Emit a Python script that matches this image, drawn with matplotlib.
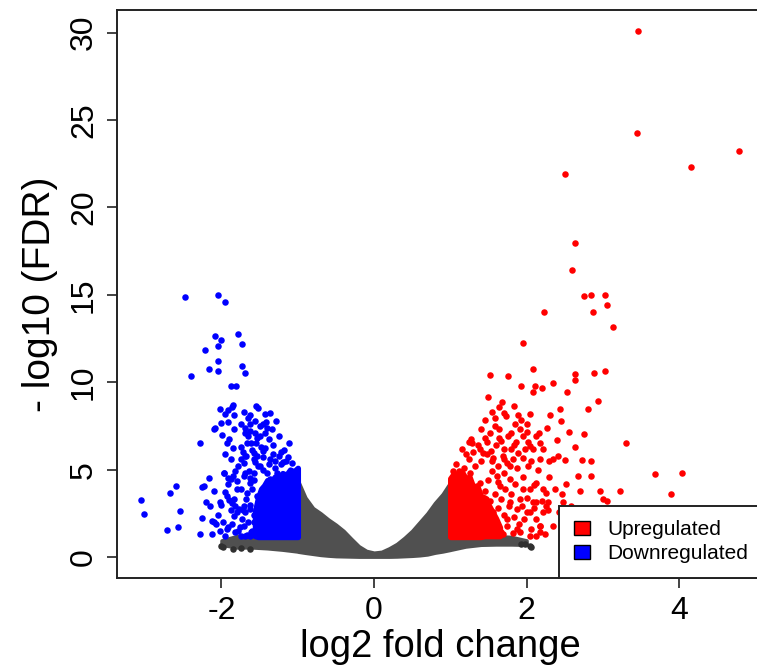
import matplotlib
matplotlib.use("Agg")
import matplotlib.pyplot as plt
from matplotlib.patches import Patch

plt.rcParams['font.family'] = ['Liberation Sans', 'DejaVu Sans']

# ---------------- data ----------------
# dense non-significant cloud (envelope of the grey points)
gray_x  = [-2.0, -1.8, -1.6, -1.4, -1.2, -1.01, -0.99, -0.9, -0.8, -0.7, -0.6, -0.5, -0.4, -0.3, -0.2, -0.1,
           0.0, 0.1, 0.2, 0.3, 0.4, 0.5, 0.6, 0.7, 0.8, 0.9, 0.99, 1.01, 1.2, 1.4, 1.6, 1.8, 2.0]
gray_hi = [0.95, 1.2, 1.2, 1.2, 1.2, 1.2, 4.3, 3.4, 2.8, 2.5, 2.15, 1.85, 1.5, 1.05, 0.62, 0.35,
           0.25, 0.3, 0.5, 0.75, 1.1, 1.5, 2.0, 2.5, 3.1, 3.6, 4.2, 1.2, 1.2, 1.2, 1.2, 1.15, 0.95]
gray_lo = [0.7, 0.55, 0.55, 0.5, 0.42, 0.32, 0.3, 0.24, 0.18, 0.12, 0.08, 0.05, 0.04, 0.03, 0.02, 0.02,
           0.02, 0.02, 0.02, 0.03, 0.05, 0.07, 0.1, 0.15, 0.25, 0.32, 0.4, 0.42, 0.6, 0.7, 0.72, 0.72, 0.7]
gray_pts_x = [-1.98, -1.85, -2.01, -1.75, -1.62, 1.98, 2.04, 1.93, 2.06]
gray_pts_y = [0.57, 0.46, 0.63, 0.5, 0.45, 0.74, 0.65, 0.74, 0.6]

# dense core of down-regulated genes
blue_core_x  = [-1.56, -1.52, -1.48, -1.44, -1.4, -1.35, -1.3, -1.25, -1.2, -1.15, -1.1, -1.05, -1.0]
blue_core_hi = [2.6, 3.4, 3.9, 4.1, 4.4, 4.3, 4.6, 4.5, 4.8, 4.7, 5.0, 4.9, 5.1]
blue_core_lo = [1.2, 1.15, 1.15, 1.15, 1.15, 1.15, 1.15, 1.15, 1.15, 1.15, 1.15, 1.15, 1.15]

down_x = [-2.48, -2.04, -1.96, -2.08, -1.79, -2.01, -1.73, -2.05, -2.22, -2.05, -2.16, -2.05, -1.73, -1.69,
          -2.40, -1.88, -1.81, -1.85, -1.86, -2.02, -1.91, -1.84, -1.55, -1.52, -1.43, -1.37, -1.63, -1.65,
          -2.01, -2.09, -2.10, -1.91, -1.74, -1.69, -1.62, -1.49, -1.41, -1.40, -1.34, -1.99, -1.69, -1.65,
          -1.56, -1.53, -1.43, -1.38, -1.93, -1.90, -2.28, -1.67, -1.61, -1.85, -1.72, -1.69, -1.58, -1.54,
          -1.43, -1.45, -1.22, -1.13, -1.37, -1.30, -1.20, -1.74, -1.70, -1.56, -1.50, -1.03, -2.17, -1.97,
          -1.91, -1.85, -1.80, -1.69, -1.63, -1.58, -2.59, -2.26, -2.68, -3.06, -2.20, -1.90, -2.00, -2.54,
          -3.01, -1.82, -1.77, -1.69, -1.63, -2.26, -2.12, -2.07, -2.57, -2.72, -2.28, -2.13, -1.91, -1.95,
          -1.82, -1.76, -1.69, -1.61, -2.23, -2.10, -2.02, -1.93, -1.84, -1.71, -1.80, -1.62, -1.62, -1.75,
          -1.49, -1.40, -1.54, -1.67, -1.88, -1.97, -1.71, -1.84, -1.58, -1.36, -1.27, -1.06, -1.01,
          -1.60, -1.65, -1.70, -1.58, -1.62, -1.68, -1.73, -1.78, -1.80, -1.86, -1.75, -1.60, -1.57, -1.64,
          -1.52, -1.45, -1.38, -1.30, -1.22, -1.15, -1.08, -1.25, -1.33, -1.45, -1.48, -1.55, -1.60, -1.75,
          -1.78, -1.88, -1.95, -1.82, -1.92, -1.96, -2.05, -1.98, -2.02, -1.88, -1.93, -2.10, -2.15, -1.50,
          -1.32, -1.25, -1.18, -1.12, -1.62, -1.83, -1.96, -1.70, -1.56, -1.46, -1.28, -1.40, -1.56, -1.67,
          -1.72, -1.86, -1.58, -1.68]
down_y = [14.87, 14.99, 14.59, 12.66, 12.78, 12.42, 12.17, 12.05, 11.83, 11.22, 10.76, 10.65, 10.95, 10.54,
          10.33, 9.79, 9.77, 8.71, 8.56, 8.46, 8.39, 8.10, 8.63, 8.50, 8.21, 8.25, 8.10, 7.97,
          7.68, 7.36, 7.30, 7.72, 7.64, 7.40, 7.59, 7.49, 7.72, 7.40, 7.30, 7.00, 7.07, 6.92,
          7.07, 6.83, 7.11, 6.77, 6.54, 6.73, 6.52, 6.54, 6.54, 6.26, 6.03, 5.78, 5.97, 5.78,
          6.26, 6.06, 5.99, 5.74, 5.63, 5.49, 5.44, 5.59, 5.40, 5.44, 5.21, 4.83, 4.55, 4.81,
          4.55, 4.64, 4.35, 4.83, 4.55, 4.83, 4.05, 4.01, 3.65, 3.25, 3.12, 3.25, 2.98, 2.61,
          2.45, 2.93, 2.74, 2.55, 2.74, 2.26, 2.07, 1.88, 1.69, 1.52, 1.33, 1.29, 1.69, 1.22,
          1.41, 1.69, 1.22, 1.41, 4.07, 1.98, 3.12, 1.60, 2.36, 2.93, 3.88, 4.26, 1.22, 1.22,
          2.55, 1.60, 3.50, 3.69, 4.45, 4.83, 4.64, 3.31, 1.98, 4.45, 4.83, 4.83, 3.88,
          1.5, 2.0, 1.8, 2.4, 3.0, 3.3, 2.2, 1.5, 2.6, 1.9, 3.9, 3.9, 4.4, 4.9,
          5.2, 5.0, 5.3, 5.1, 5.3, 5.5, 5.4, 5.8, 5.9, 5.7, 6.3, 6.5, 6.1, 6.3,
          5.2, 5.6, 5.9, 4.9, 4.2, 3.7, 2.4, 2.0, 1.5, 2.7, 3.5, 3.8, 2.9, 6.9,
          6.4, 6.9, 6.1, 6.5, 7.2, 7.3, 8.2, 8.3, 7.8, 7.6, 7.8, 4.8, 1.3, 1.25,
          2.7, 3.1, 5.6, 5.8]

# dense core of up-regulated genes
red_core_x  = [1.0, 1.05, 1.1, 1.15, 1.2, 1.25, 1.3, 1.35, 1.4, 1.45, 1.5, 1.55, 1.6, 1.65]
red_core_hi = [4.5, 4.8, 4.7, 4.9, 4.5, 4.6, 4.0, 4.1, 3.5, 3.4, 3.0, 2.6, 2.2, 1.7]
red_core_lo = [1.15, 1.15, 1.15, 1.15, 1.15, 1.15, 1.15, 1.15, 1.15, 1.2, 1.2, 1.2, 1.2, 1.2]

up_x = [3.455, 3.45, 4.79, 4.15, 2.51, 2.63, 2.60, 2.75, 2.85, 3.03, 2.87, 3.05, 2.23, 3.13, 1.95, 2.09,
        1.52, 1.76, 2.64, 2.64, 2.88, 3.03, 1.93, 2.11, 2.08, 2.20, 2.35, 2.53, 1.50, 1.68, 1.83, 2.94,
        2.81, 2.44, 2.31, 1.46, 1.58, 1.70, 1.73, 1.89, 1.93, 2.00, 1.64, 1.80, 2.00, 1.95, 2.16, 2.55,
        2.75, 1.27, 1.24, 1.48, 1.64, 1.67, 1.83, 1.80, 2.02, 2.04, 2.17, 2.63, 3.30, 1.39, 1.43, 1.54,
        1.56, 1.69, 1.74, 1.82, 1.89, 1.95, 2.09, 2.06, 2.17, 2.30, 2.35, 2.41, 2.51, 2.73, 2.84, 2.67,
        2.84, 2.70, 2.96, 3.22, 2.46, 2.48, 2.26, 2.28, 2.22, 2.13, 2.04, 2.13, 2.04, 2.17, 2.24, 2.13,
        3.00, 3.05, 3.69, 3.90, 1.65, 1.78, 2.00, 2.13, 2.22, 1.87, 2.04, 1.69, 1.52, 2.17, 2.26, 1.95,
        1.78, 1.61, 1.47, 1.56, 1.87, 1.39, 1.26, 1.74, 1.91, 2.09, 1.43, 1.61, 4.04,
        1.55, 1.62, 1.70, 1.58, 1.66, 1.72, 1.80, 1.85, 1.62, 1.70, 1.77, 1.83, 1.60, 1.66, 1.75, 1.82,
        1.90, 1.97, 1.94, 2.00, 2.06, 2.10, 1.55, 1.63, 1.48, 1.40, 1.33, 1.25, 1.18, 1.12, 1.30, 1.36,
        1.45, 1.52, 1.60, 1.70, 1.76, 1.86, 1.92, 1.58, 1.40, 1.55, 1.64, 1.85, 2.05, 2.12, 2.22, 2.27,
        2.40, 2.45, 2.30, 2.37, 2.42, 2.35, 2.52, 2.58, 1.50, 1.45, 1.52, 1.48, 1.55, 1.60, 1.20, 1.28,
        1.08, 1.03, 1.15, 1.88, 1.95, 2.02, 2.15, 2.10, 2.20, 2.28, 1.92, 2.18, 1.70, 1.78, 1.98]
up_y = [30.12, 24.26, 23.26, 22.29, 21.89, 17.97, 16.45, 14.91, 14.99, 14.99, 14.0, 14.41, 14.0, 13.16, 12.23, 10.76,
        10.42, 10.33, 10.48, 10.15, 10.51, 10.65, 9.79, 9.79, 9.43, 9.70, 9.93, 9.47, 9.18, 8.86, 8.63, 8.92,
        8.48, 8.48, 8.12, 7.85, 7.97, 8.25, 8.06, 8.12, 7.83, 7.64, 7.34, 7.07, 7.15, 6.92, 7.11, 7.15,
        7.03, 6.73, 6.58, 6.58, 6.83, 6.64, 6.39, 6.20, 6.60, 6.35, 6.54, 6.29, 6.52, 6.16, 5.93, 6.06,
        5.69, 5.78, 5.40, 5.59, 5.93, 5.69, 6.16, 5.49, 5.59, 5.49, 5.59, 5.78, 5.55, 5.55, 5.48, 4.64,
        4.64, 3.75, 3.75, 3.78, 3.59, 3.12, 3.69, 3.12, 2.55, 4.26, 3.88, 3.12, 2.55, 1.79, 1.31, 1.22,
        3.31, 3.21, 4.77, 3.59, 4.07, 3.12, 2.55, 2.17, 3.88, 1.60, 1.22, 1.31, 1.79, 1.41, 2.93, 3.88,
        4.45, 4.64, 3.31, 2.55, 2.74, 4.26, 4.83, 2.17, 3.31, 3.12, 2.17, 1.60, 4.79,
        4.9, 4.3, 4.8, 3.6, 3.3, 3.9, 3.6, 4.2, 2.8, 2.4, 2.9, 2.3, 1.9, 1.45, 1.75, 1.35,
        1.9, 2.2, 2.9, 3.4, 1.6, 2.8, 5.5, 5.2, 5.9, 5.5, 5.2, 5.6, 5.1, 4.9, 6.0, 6.4,
        6.8, 7.1, 6.4, 6.2, 6.9, 6.6, 7.3, 7.5, 7.3, 8.3, 8.6, 7.6, 8.2, 6.9, 6.2, 7.4,
        6.7, 7.8, 4.6, 3.9, 2.6, 1.8, 4.2, 2.9, 4.4, 3.8, 3.2, 2.5, 1.6, 1.3, 5.9, 6.5,
        5.3, 4.9, 6.2, 5.1, 4.6, 5.2, 5.0, 4.1, 3.2, 2.7, 1.45, 1.8, 5.6, 5.2, 6.2]

x_ticks = [-2, 0, 2, 4]
y_ticks = [0, 5, 10, 15, 20, 25, 30]
legend_labels = ["Upregulated", "Downregulated"]

# ---------------- styling ----------------
GRAY = '#505050'
BLUE = '#0000ff'
RED = '#ff0000'
MS = 22

fig = plt.figure(figsize=(7.57, 6.70), dpi=100)
ax = fig.add_axes([117 / 757, 92 / 670, 646 / 757, 568 / 670])

ax.fill_between(gray_x, gray_lo, gray_hi, color=GRAY, lw=2.5, edgecolor=GRAY, zorder=1)
ax.scatter(gray_pts_x, gray_pts_y, s=MS, color='#303030', lw=0, zorder=1)

ax.fill_between(blue_core_x, blue_core_lo, blue_core_hi, color=BLUE, lw=4, edgecolor=BLUE, zorder=2)
ax.scatter(down_x, down_y, s=MS, color=BLUE, lw=0, zorder=2)

ax.fill_between(red_core_x, red_core_lo, red_core_hi, color=RED, lw=4, edgecolor=RED, zorder=2)
ax.scatter(up_x, up_y, s=MS, color=RED, lw=0, zorder=2)

ax.set_xlim(-3.37, 5.10)
ax.set_ylim(-1.2, 31.3)
ax.set_xticks(x_ticks)
ax.set_xticklabels([str(t) for t in x_ticks])
ax.set_yticks(y_ticks)
ax.set_yticklabels([str(t) for t in y_ticks], rotation=90, va='center')

for sp in ax.spines.values():
    sp.set_linewidth(1.4)
    sp.set_color('#222222')
ax.tick_params(axis='both', direction='out', length=7, width=1.2, labelsize=23, color='#222222', pad=6)

ax.set_xlabel("log2 fold change", fontsize=27.5, labelpad=2)
ax.set_ylabel("- log10 (FDR)", fontsize=28, labelpad=8)

handles = [Patch(facecolor=RED, edgecolor='black'), Patch(facecolor=BLUE, edgecolor='black')]
leg = ax.legend(handles, legend_labels, loc='lower right', bbox_to_anchor=(1.0, 0.0),
                borderaxespad=0, fontsize=15, frameon=True, fancybox=False,
                handlelength=0.77, handleheight=0.7, handletextpad=0.85, labelspacing=0.25,
                borderpad=0.7)
leg.get_frame().set_edgecolor('#222222')
leg.get_frame().set_linewidth(1.4)
leg.get_frame().set_alpha(1)

fig.savefig("out.png", dpi=100)
